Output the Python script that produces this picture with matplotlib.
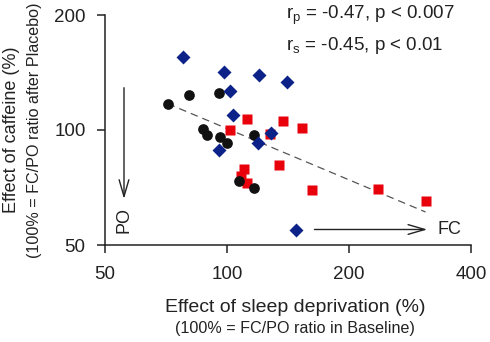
import numpy as np
import matplotlib
matplotlib.use("Agg")
import matplotlib.pyplot as plt
from matplotlib.ticker import FixedLocator, FixedFormatter, NullLocator

plt.rcParams['font.family'] = ['Liberation Sans', 'DejaVu Sans']
plt.rcParams['mathtext.fontset'] = 'custom'
plt.rcParams['mathtext.rm'] = 'Liberation Sans'
plt.rcParams['mathtext.it'] = 'Liberation Sans'

# ---- data ----
blue_x = [77.7, 98.5, 120.2, 140.4, 101.7, 103.3, 128.2, 119.0, 95.6, 147.7]
blue_y = [155.6, 142.2, 139.3, 133.3, 126.5, 109.5, 98.4, 92.6, 88.7, 54.7]

black_x = [71.4, 80.7, 95.6, 87.3, 89.3, 96.3, 100.2, 116.6, 107.1, 116.6]
black_y = [117.2, 123.7, 124.7, 100.4, 96.8, 95.7, 92.2, 97.2, 73.5, 70.4]

red_x = [101.5, 111.8, 137.7, 153.4, 127.7, 134.6, 110.2, 108.1, 111.8, 162.4, 235.4, 309.2]
red_y = [100.0, 106.6, 105.8, 101.4, 97.4, 81.0, 78.9, 75.8, 72.8, 69.6, 69.9, 65.1]

fit_x = [71.4, 309.0]
fit_y = [117.2, 61.0]

x_ticks = [50, 100, 200, 400]
y_ticks = [50, 100, 200]

fig = plt.figure(figsize=(4.9, 3.42), dpi=100)
ax = fig.add_axes([105/490, 1-245/342, (471-105)/490, (245-15)/342])
ax.set_xscale('log')
ax.set_yscale('log')
ax.set_xlim(50, 400)
ax.set_ylim(50, 200)

ax.plot(fit_x, fit_y, ls=(0, (6, 4)), color='#555555', lw=0.9, zorder=1)
ax.plot(red_x, red_y, 's', color='#e8000b', ms=6.7, mec='none', zorder=2)
ax.plot(black_x, black_y, 'o', color='#111111', ms=7.7, mec='none', zorder=3)
ax.plot(blue_x, blue_y, 'D', color='#0c2288', ms=6.9, mec='none', zorder=4)

ax.xaxis.set_major_locator(FixedLocator(x_ticks))
ax.xaxis.set_major_formatter(FixedFormatter([str(t) for t in x_ticks]))
ax.yaxis.set_major_locator(FixedLocator(y_ticks))
ax.yaxis.set_major_formatter(FixedFormatter([str(t) for t in y_ticks]))
ax.xaxis.set_minor_locator(NullLocator())
ax.yaxis.set_minor_locator(NullLocator())

for s in ['top', 'right']:
    ax.spines[s].set_visible(False)
for s in ['left', 'bottom']:
    ax.spines[s].set_linewidth(1.1)
    ax.spines[s].set_color('#222222')
ax.tick_params(axis='both', direction='out', length=6, width=1.1, color='#222222',
               labelsize=13.5, labelcolor='#222222')
ax.tick_params(axis='x', pad=9)
ax.tick_params(axis='y', pad=8)

# arrows
ax.annotate('', xy=(55.7, 64.9), xytext=(55.7, 131.2),
            arrowprops=dict(arrowstyle='->,head_length=1.2,head_width=0.35', lw=1.0, color='#222222'))
ax.text(55.7, 58.3, 'PO', rotation=90, ha='center', va='center', fontsize=13, color='#222222')
ax.annotate('', xy=(316.9, 54.9), xytext=(161.8, 54.9),
            arrowprops=dict(arrowstyle='->,head_length=1.2,head_width=0.35', lw=1.0, color='#222222'))
ax.text(331, 54.9, 'FC', ha='left', va='center', fontsize=13, color='#222222')

# correlation text
fig.text(286/490, 1-15/342, r'$\mathregular{r_p}$ = -0.47, p < 0.007', ha='left', va='center',
         fontsize=13.5, color='#222222')
fig.text(286/490, 1-46/342, r'$\mathregular{r_s}$ = -0.45, p < 0.01', ha='left', va='center',
         fontsize=13.5, color='#222222')

# axis labels
fig.text(295/490, 1-307/342, 'Effect of sleep deprivation (%)', ha='center', va='center',
         fontsize=14, color='#222222')
fig.text(295/490, 1-329/342, '(100% = FC/PO ratio in Baseline)', ha='center', va='center',
         fontsize=11.6, color='#222222')
fig.text(12/490, 1-130/342, 'Effect of caffeine (%)', rotation=90, ha='center', va='center',
         fontsize=13, color='#222222')
fig.text(34/490, 1-130/342, '(100% = FC/PO ratio after Placebo)', rotation=90, ha='center', va='center',
         fontsize=11.6, color='#222222')

fig.savefig('out.png', dpi=100)
